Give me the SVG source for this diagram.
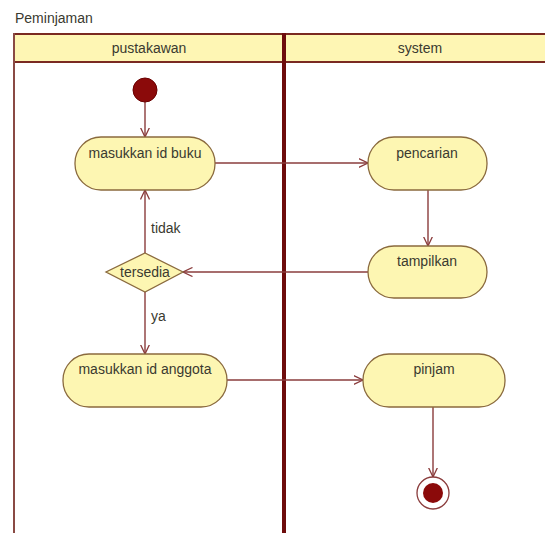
<svg xmlns="http://www.w3.org/2000/svg" width="545" height="533" viewBox="0 0 545 533">
  <style>
    text { font-family: "Liberation Sans", Arial, sans-serif; font-size: 14px; fill: #3a3a30; }
    .c { text-anchor: middle; }
    .act { fill: #fdf6b2; stroke: #8a6a3e; stroke-width: 1.3; }
    .edge { fill: none; stroke: #8a3c3c; stroke-width: 1.4; }
    .lane { fill: none; stroke: #7a2a22; stroke-width: 2; }
  </style>
  <defs>
    <marker id="open" viewBox="0 0 10 10" refX="9.5" refY="5" markerWidth="10" markerHeight="10" markerUnits="userSpaceOnUse" orient="auto">
      <path d="M0,0.5 L9.5,5 L0,9.5" fill="none" stroke="#8a3c3c" stroke-width="1.3"/>
    </marker>
  </defs>

  <rect width="545" height="533" fill="#ffffff"/>

  <!-- frame and swimlanes -->
  <g id="frame">
    <text x="15" y="23">Peminjaman</text>
    <rect x="14" y="34" width="535" height="28" fill="#fef6b4"/>
    <line class="lane" x1="14" y1="34" x2="545" y2="34"/>
    <line class="lane" x1="14" y1="62" x2="545" y2="62"/>
    <line x1="14" y1="33" x2="14" y2="533" stroke="#8a4a44" stroke-width="2"/>
    <line x1="284" y1="33" x2="284" y2="533" stroke="#6e0c0c" stroke-width="4"/>
    <text class="c" x="149" y="53">pustakawan</text>
    <text class="c" x="420" y="53">system</text>
  </g>

  <!-- connectors -->
  <g id="connectors">
    <line class="edge" x1="145" y1="102" x2="145" y2="137" marker-end="url(#open)"/>
    <line class="edge" x1="215" y1="163" x2="368" y2="163" marker-end="url(#open)"/>
    <line class="edge" x1="428" y1="190" x2="428" y2="246" marker-end="url(#open)"/>
    <line class="edge" x1="368" y1="272" x2="183" y2="272" marker-end="url(#open)"/>
    <line class="edge" x1="145" y1="253" x2="145" y2="190" marker-end="url(#open)"/>
    <line class="edge" x1="145" y1="292" x2="145" y2="354" marker-end="url(#open)"/>
    <line class="edge" x1="227" y1="380" x2="363" y2="380" marker-end="url(#open)"/>
    <line class="edge" x1="433" y1="407" x2="433" y2="477" marker-end="url(#open)"/>
    <text x="151" y="233">tidak</text>
    <text x="151" y="321">ya</text>
  </g>

  <g id="start">
    <circle cx="145" cy="90" r="12" fill="#8b0a0a" stroke="#6a0000" stroke-width="1"/>
  </g>

  <g id="masukkan-id-buku">
    <rect class="act" x="75" y="137" width="140" height="53" rx="26" ry="26"/>
    <text class="c" x="145" y="158">masukkan id buku</text>
  </g>

  <g id="pencarian">
    <rect class="act" x="368" y="137" width="119" height="53" rx="26" ry="26"/>
    <text class="c" x="427" y="158">pencarian</text>
  </g>

  <g id="tampilkan">
    <rect class="act" x="368" y="246" width="119" height="52" rx="26" ry="26"/>
    <text class="c" x="427" y="266">tampilkan</text>
  </g>

  <g id="tersedia">
    <polygon class="act" points="145,253 183,272 145,292 106,272"/>
    <text class="c" x="145" y="277">tersedia</text>
  </g>

  <g id="masukkan-id-anggota">
    <rect class="act" x="63" y="354" width="164" height="53" rx="26" ry="26"/>
    <text class="c" x="145" y="374">masukkan id anggota</text>
  </g>

  <g id="pinjam">
    <rect class="act" x="363" y="354" width="142" height="53" rx="26" ry="26"/>
    <text class="c" x="434" y="374">pinjam</text>
  </g>

  <g id="end">
    <circle cx="433" cy="493" r="16" fill="#ffffff" stroke="#8a3c3c" stroke-width="1.3"/>
    <circle cx="433" cy="493" r="10" fill="#8b0a0a"/>
  </g>
</svg>
